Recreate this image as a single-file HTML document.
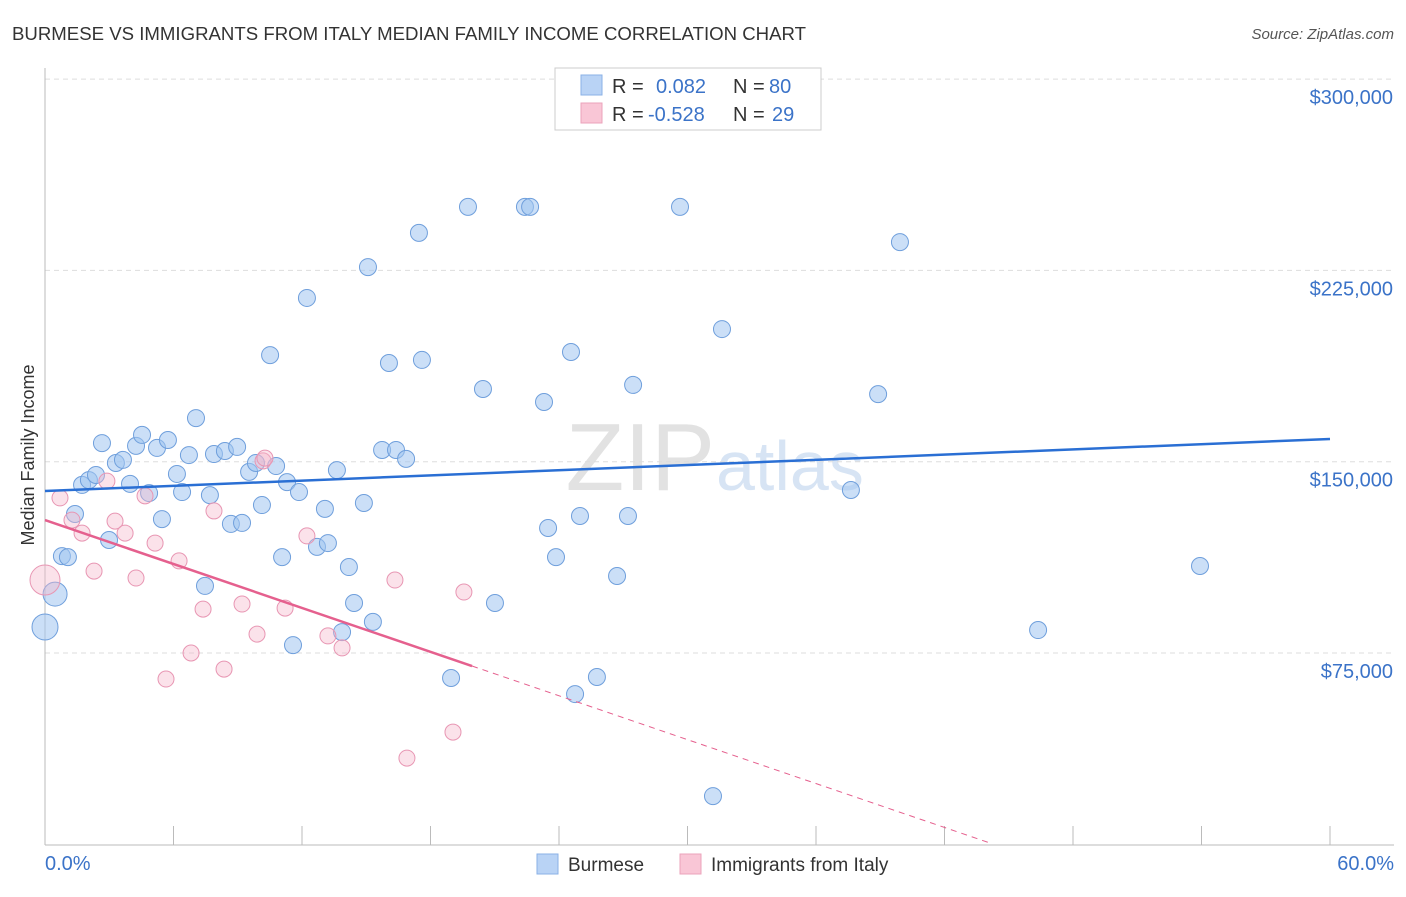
<!DOCTYPE html>
<html><head><meta charset="utf-8"><style>
body{margin:0;background:#fff;font-family:"Liberation Sans",sans-serif}
svg text{font-family:"Liberation Sans",sans-serif}
</style></head><body>
<svg id="chart" width="1406" height="892">
<text x="12" y="40" font-size="18" fill="#333" textLength="794" lengthAdjust="spacingAndGlyphs">BURMESE VS IMMIGRANTS FROM ITALY MEDIAN FAMILY INCOME CORRELATION CHART</text>
<text x="1394" y="39" font-size="15" fill="#555" font-style="italic" text-anchor="end">Source: ZipAtlas.com</text>
<text x="715" y="490" font-size="96" fill="#e2e2e2" text-anchor="end" font-family="Liberation Serif">ZIP</text>
<text x="716" y="490" font-size="70" fill="#d7e4f4">atlas</text>
<g id="grid"></g><g id="axes"></g><g id="marks"></g>
<text transform="translate(34,455) rotate(-90)" font-size="18" fill="#333" text-anchor="middle">Median Family Income</text>
<text x="45" y="870" font-size="20" fill="#3b73c8">0.0%</text>
<text x="1394" y="870" font-size="20" fill="#3b73c8" text-anchor="end">60.0%</text>
<g>
<rect x="555" y="68" width="266" height="62" fill="#fff" stroke="#ccc"/>
<rect x="581" y="75" width="21" height="20" fill="#b9d3f5" stroke="#8ab0e6"/>
<rect x="581" y="103" width="21" height="20" fill="#f9c6d6" stroke="#eba3bb"/>
<text x="612" y="93" font-size="20" fill="#333">R =</text><text x="656" y="93" font-size="20" fill="#3b73c8">0.082</text>
<text x="733" y="93" font-size="20" fill="#333">N =</text><text x="769" y="93" font-size="20" fill="#3b73c8">80</text>
<text x="612" y="121" font-size="20" fill="#333">R =</text><text x="648" y="121" font-size="20" fill="#3b73c8">-0.528</text>
<text x="733" y="121" font-size="20" fill="#333">N =</text><text x="772" y="121" font-size="20" fill="#3b73c8">29</text>
</g>
<g>
<rect x="537" y="854" width="21" height="20" fill="#b9d3f5" stroke="#8ab0e6"/>
<text x="568" y="871" font-size="19" fill="#333">Burmese</text>
<rect x="680" y="854" width="21" height="20" fill="#f9c6d6" stroke="#eba3bb"/>
<text x="711" y="871" font-size="19" fill="#333">Immigrants from Italy</text>
</g>
</svg>
<script>
const yTicks=[75000,150000,225000,300000];
const yTickLabels=["$75,000","$150,000","$225,000","$300,000"];
const xTicks=[0,6,12,18,24,30,36,42,48,54,60];
const burmeseX=[0,0.47,0.79,1.07,1.40,1.73,2.05,2.38,2.66,2.99,3.31,3.64,3.97,4.25,4.53,4.86,5.23,5.46,5.74,6.16,6.40,6.72,7.05,7.47,7.70,7.89,8.40,8.68,8.97,9.20,9.53,9.85,10.13,10.51,10.79,11.07,11.30,11.58,11.86,12.23,12.70,13.07,13.21,13.63,13.87,14.19,14.43,14.89,15.08,15.31,15.74,16.06,16.39,16.86,17.46,17.60,18.96,19.75,20.45,21.01,22.41,22.65,23.30,23.49,23.86,24.56,24.75,24.98,25.77,26.71,27.22,27.46,29.65,31.19,31.61,37.63,38.90,39.92,46.37,53.93];
const burmeseY=[85200,98100,113000,112600,129500,140900,142800,144800,157300,119300,149500,150700,141300,156200,160500,137700,155400,127500,158500,145200,138100,152600,167100,101300,136900,153000,154200,125600,155800,126000,146000,149500,133000,191800,148300,112600,142000,78100,138100,214200,116600,131500,118100,146700,83200,108700,94600,133800,226300,87200,154600,188700,154600,151100,239700,189900,65200,249900,178500,94600,249900,249900,173400,124000,112600,193000,58900,128700,65600,105200,128700,180100,249900,18900,202000,138900,176500,236100,84000,109100];
const burmeseR=[13,12].concat(Array(78).fill(8.5));
const italyX=[0,0.70,1.26,1.73,2.29,2.89,3.27,3.74,4.25,4.67,5.14,5.65,6.26,6.82,7.38,7.89,8.36,9.20,9.90,10.18,10.27,11.21,12.23,13.21,13.87,16.34,16.90,19.05,19.56];
const italyY=[103600,135800,127100,122000,107100,142400,126700,122000,104400,136600,118100,64800,111100,75000,92200,130700,68700,94200,82400,150300,151400,92600,120900,81700,77000,103600,33800,44000,98900];
const italyR=[15].concat(Array(28).fill(8));
const burmeseTrend=[138500,158900]; // value at 0% and 60%
const italyTrend=[127100,-2869]; // intercept, slope per %
const italySolidEnd=19.94, italyDashEnd=44.03;
const NS="http://www.w3.org/2000/svg";
const xS=v=>45+v/60*1285;
const yS=v=>653-(v-75000)/75000*191.3;
function mk(tag,attrs,parent){const e=document.createElementNS(NS,tag);for(const k in attrs)e.setAttribute(k,attrs[k]);document.getElementById(parent).appendChild(e);return e;}
yTicks.forEach((t,i)=>{
 const l=mk('line',{x1:45,x2:1394,y1:yS(t),y2:yS(t),stroke:'#ddd','stroke-dasharray':'5,4'},'grid');
 
 
 const tx=mk('text',{x:1393,y:yS(t)+25,'font-size':20,fill:'#3b73c8','text-anchor':'end'},'grid');
 tx.textContent=yTickLabels[i];
 
 
});
const ax=mk('line',{x1:45,x2:1394,y1:845,y2:845,stroke:'#bbb'},'axes');


const ay=mk('line',{x1:45,x2:45,y1:68,y2:845,stroke:'#bbb'},'axes');


xTicks.forEach(t=>{
 const l=mk('line',{x1:xS(t),x2:xS(t),y1:826,y2:845,stroke:'#bbb'},'axes');
 
 
});
burmeseX.forEach((x,i)=>{
 const c=mk('circle',{cx:xS(x),cy:yS(burmeseY[i]),r:burmeseR[i],fill:'rgba(160,196,240,0.55)',stroke:'#6f9fdc','stroke-width':1},'marks');
 
 
});
italyX.forEach((x,i)=>{
 const c=mk('circle',{cx:xS(x),cy:yS(italyY[i]),r:italyR[i],fill:'rgba(246,182,202,0.4)',stroke:'#e896b3','stroke-width':1},'marks');
 
 
});
const bl=mk('line',{x1:xS(0),y1:yS(burmeseTrend[0]),x2:xS(60),y2:yS(burmeseTrend[1]),stroke:'#2a6fd4','stroke-width':2.5},'marks');


const iv=x=>italyTrend[0]+italyTrend[1]*x;
const il=mk('line',{x1:xS(0),y1:yS(iv(0)),x2:xS(italySolidEnd),y2:yS(iv(italySolidEnd)),stroke:'#e5608e','stroke-width':2.5},'marks');


const id=mk('line',{x1:xS(italySolidEnd),y1:yS(iv(italySolidEnd)),x2:xS(italyDashEnd),y2:yS(iv(italyDashEnd)),stroke:'#e5608e','stroke-width':1,'stroke-dasharray':'6,5'},'marks');


</script>
</body></html>
